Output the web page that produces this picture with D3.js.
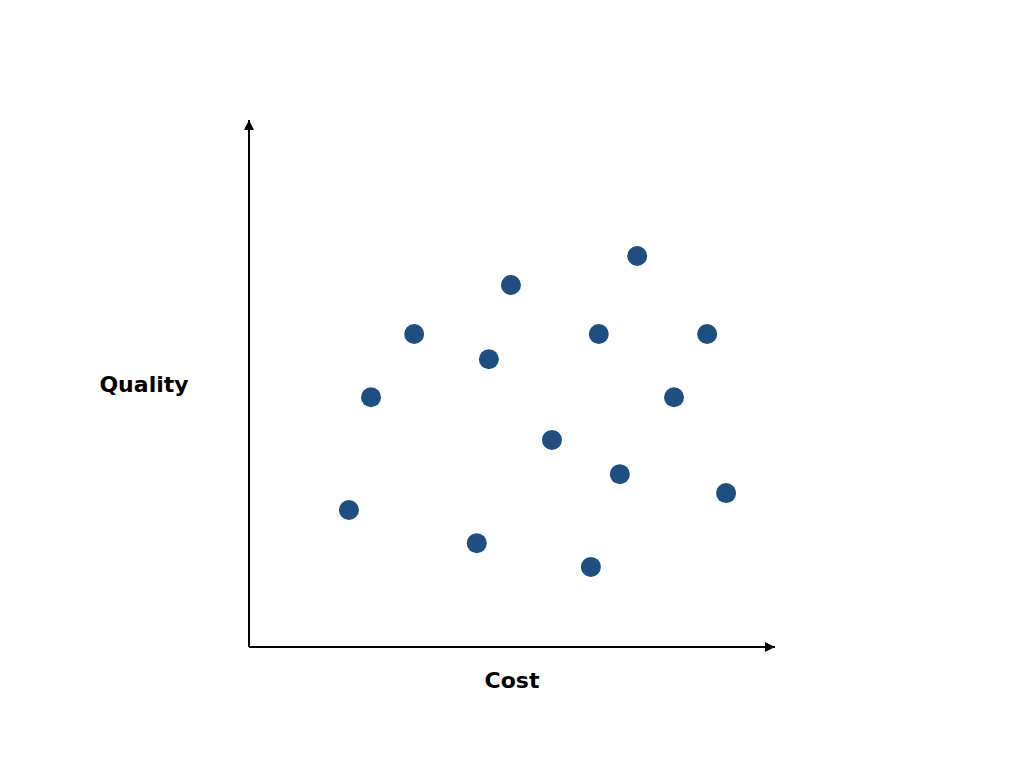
<!DOCTYPE html>
<html><head><meta charset="utf-8">
<script src="https://cdn.jsdelivr.net/npm/d3@7"></script>
<style>html,body{margin:0;padding:0;background:#fff;}svg{display:block;}</style>
</head><body>
<script>
const costValues = [19.0, 23.2, 31.4, 43.3, 45.6, 49.8, 57.6, 65.0, 66.5, 70.5, 73.8, 80.8, 87.1, 90.7];
const qualityValues = [26.0, 47.4, 59.4, 19.7, 54.6, 68.7, 39.3, 15.2, 59.4, 32.8, 74.2, 47.4, 59.4, 29.2];
const xLabel = "Cost";
const yLabel = "Quality";

const W = 1024, H = 768;
const svg = d3.select("body").append("svg").attr("width", W).attr("height", H);
const x = d3.scaleLinear().domain([0, 100]).range([249, 775]);
const y = d3.scaleLinear().domain([0, 100]).range([647, 120]);

const defs = svg.append("defs");
defs.append("marker").attr("id", "arr").attr("viewBox", "0 0 10 10")
  .attr("refX", 10).attr("refY", 5).attr("markerWidth", 10).attr("markerHeight", 10)
  .attr("markerUnits", "userSpaceOnUse").attr("orient", "auto")
  .append("path").attr("d", "M0,0 L10,5 L0,10 Z").attr("fill", "#000");

svg.append("line").attr("x1", x(0)).attr("y1", y(0)).attr("x2", x(0)).attr("y2", y(100))
  .attr("stroke", "#000").attr("stroke-width", 2).attr("marker-end", "url(#arr)");
svg.append("line").attr("x1", x(0)).attr("y1", y(0)).attr("x2", x(100)).attr("y2", y(0))
  .attr("stroke", "#000").attr("stroke-width", 2).attr("marker-end", "url(#arr)");

const pts = costValues.map((c, i) => ({c, q: qualityValues[i]}));
svg.selectAll("circle.pt").data(pts).enter().append("circle").attr("class", "pt")
  .attr("cx", d => x(d.c)).attr("cy", d => y(d.q)).attr("r", 10).attr("fill", "#1f4e80");

svg.append("text").attr("x", 512).attr("y", 688).attr("text-anchor", "middle")
  .attr("font-family", "DejaVu Sans").attr("font-weight", "bold").attr("font-size", 22).text(xLabel);
svg.append("text").attr("x", 144).attr("y", 392).attr("text-anchor", "middle")
  .attr("font-family", "DejaVu Sans").attr("font-weight", "bold").attr("font-size", 22).text(yLabel);
</script>
</body></html>
